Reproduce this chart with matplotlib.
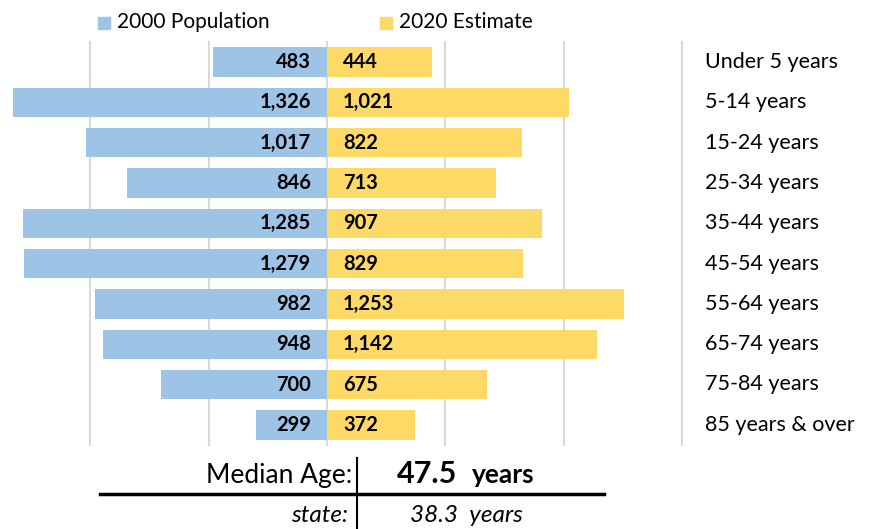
import numpy as np
import matplotlib
matplotlib.use("Agg")
import matplotlib.pyplot as plt

plt.rcParams['font.family'] = ['Lato', 'DejaVu Sans']

# data
age_groups = ["Under 5 years", "5-14 years", "15-24 years", "25-34 years", "35-44 years",
              "45-54 years", "55-64 years", "65-74 years", "75-84 years", "85 years & over"]
pop_2000 = [483, 1326, 1017, 846, 1285, 1279, 982, 948, 700, 299]
est_2020 = [444, 1021, 822, 713, 907, 829, 1253, 1142, 675, 372]
median_age = "47.5"
state_median = "38.3"
grid_ticks = [-1000, -500, 0, 500, 1000, 1500]

blue = '#9DC3E6'
yellow = '#FFD966'

fig = plt.figure(figsize=(8.74, 5.29), dpi=100)
W, H = 874, 529

# main axes: pixel 0..682 in x, 42..445 in y
ax = fig.add_axes([0, 1 - 445 / H, 682 / W, (445 - 42) / H])
ax.set_xlim(-1382, 1500)
ax.set_ylim(len(age_groups) - 0.5, -0.5)
ax.axis('off')

for t in grid_ticks:
    ax.axvline(t, color='#D9D9D9', lw=1.5, zorder=0, clip_on=False)

ind = np.arange(len(age_groups))
ax.barh(ind, -np.array(pop_2000), height=0.73, color=blue, zorder=2, label='2000 Population')
ax.barh(ind, est_2020, height=0.73, color=yellow, zorder=2, label='2020 Estimate')

for i in range(len(age_groups)):
    ax.text(-68, i, f"{pop_2000[i]:,}", ha='right', va='center', fontsize=14.5,
            fontweight='bold', zorder=3)
    ax.text(68, i, f"{est_2020[i]:,}", ha='left', va='center', fontsize=14.5,
            fontweight='bold', zorder=3)
    fig.text(705 / W, 1 - (62 + i * 40.3) / H, age_groups[i], ha='left', va='center',
             fontsize=15.5)

# legend
fig.patches.append(matplotlib.patches.Rectangle((98 / W, 1 - 29 / H), 12 / W, 12 / H,
                                                 color=blue, transform=fig.transFigure))
fig.text(117 / W, 1 - 22 / H, "2000 Population", ha='left', va='center', fontsize=15)
fig.patches.append(matplotlib.patches.Rectangle((380 / W, 1 - 29 / H), 12 / W, 12 / H,
                                                 color=yellow, transform=fig.transFigure))
fig.text(399 / W, 1 - 22 / H, "2020 Estimate", ha='left', va='center', fontsize=15)

# median age table
fig.add_artist(matplotlib.lines.Line2D([357 / W, 357 / W], [1 - 458 / H, 0], color='black',
                                       lw=1.5, transform=fig.transFigure))
fig.add_artist(matplotlib.lines.Line2D([100 / W, 604 / W], [1 - 494 / H, 1 - 494 / H],
                                       color='black', lw=2.5, transform=fig.transFigure))
fig.text(352 / W, 1 - 483 / H, "Median Age:", ha='right', va='baseline', fontsize=19)
fig.text(397 / W, 1 - 483 / H, median_age, ha='left', va='baseline', fontsize=22,
         fontweight='bold')
fig.text(472 / W, 1 - 483 / H, "years", ha='left', va='baseline', fontsize=19,
         fontweight='bold')
fig.text(348 / W, 1 - 522 / H, "state:", ha='right', va='baseline', fontsize=17.5,
         style='italic')
fig.text(410 / W, 1 - 522 / H, state_median + "  years", ha='left', va='baseline',
         fontsize=17.5, style='italic')

fig.savefig('out.png', dpi=100)
